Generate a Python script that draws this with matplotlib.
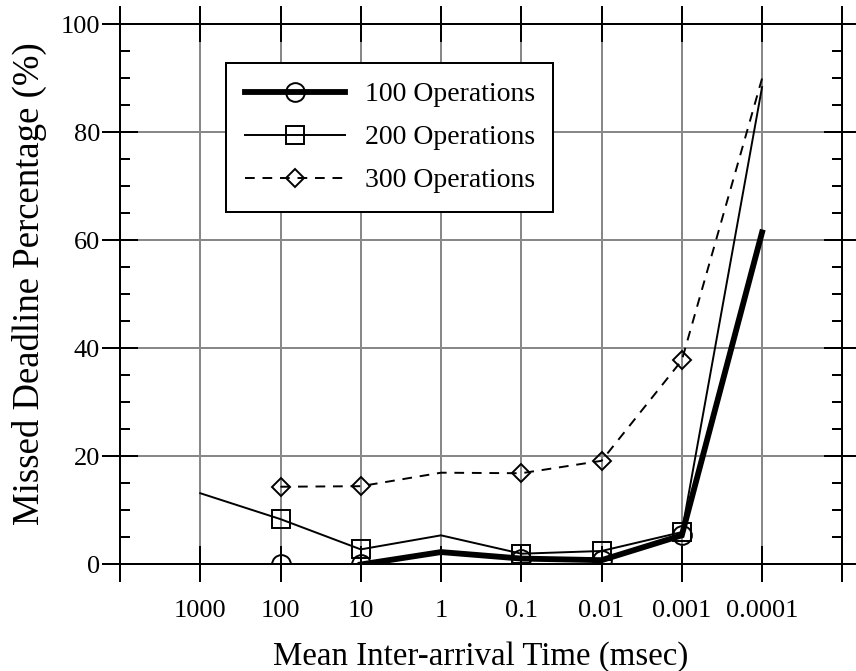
import numpy as np
import matplotlib
matplotlib.use("Agg")
import matplotlib.pyplot as plt
from matplotlib.ticker import FixedLocator, NullLocator, MultipleLocator

plt.rcParams['font.family'] = ['Liberation Serif', 'DejaVu Serif']

# valores (NaN = sem ponto)
x_vals = [1000, 100, 10, 1, 0.1, 0.01, 0.001, 0.0001]
x_labels = ['1000', '100', '10', '1', '0.1', '0.01', '0.001', '0.0001']
ops100 = [np.nan, 0.0, 0.0, 2.3, 1.1, 0.8, 5.4, 61.5]
ops200 = [13.2, 8.4, 2.8, 5.4, 2.0, 2.5, 6.0, 88.4]
ops300 = [np.nan, 14.4, 14.5, 17.0, 16.9, 19.2, 37.8, 90.0]
# onde a linha começa e onde há marcadores
line_start = [2, 0, 1]
mark_idx = [1, 2, 4, 5, 6]
labels = ['100 Operations', '200 Operations', '300 Operations']

styles = [
    dict(color='black', lw=4.2, ls='-', marker='o', ms=13.5),
    dict(color='black', lw=1.4, ls='-', marker='s', ms=13.5),
    dict(color='black', lw=1.4, ls=(0, (5, 4)), marker='D', ms=9.5),
]

fig = plt.figure(figsize=(8.56, 6.71), dpi=100)
ax = fig.add_axes([0.14019, 0.15872, 0.84381, 0.80477])

x = np.array(x_vals, dtype=float)
handles = []
for vals, start, st, lab in zip([ops100, ops200, ops300], line_start, styles, labels):
    v = np.array(vals, dtype=float)
    ax.plot(x[start:], v[start:], color=st['color'], lw=st['lw'], ls=st['ls'],
            solid_joinstyle='miter', zorder=3)
    ax.plot(x[mark_idx], v[mark_idx], ls='none', marker=st['marker'], ms=st['ms'],
            mfc='none', mec='black', mew=1.4, zorder=4)
    h, = ax.plot([], [], color=st['color'], lw=st['lw'], ls=st['ls'],
                 marker=st['marker'], ms=st['ms'], mfc='none', mec='black', mew=1.4)
    handles.append(h)

ax.set_xscale('log')
ax.set_xlim(1e4, 1e-5)
ax.set_ylim(0, 100)

ax.xaxis.set_major_locator(FixedLocator([1e4] + x_vals + [1e-5]))
ax.set_xticklabels([''] + x_labels + [''])
ax.xaxis.set_minor_locator(NullLocator())
ax.yaxis.set_major_locator(MultipleLocator(20))
ax.yaxis.set_minor_locator(MultipleLocator(5))

ax.tick_params(axis='both', which='major', direction='inout', length=25.9, width=1.44,
               labelsize=19, top=True, right=True)
ax.tick_params(axis='x', which='major', pad=12.5)
ax.tick_params(axis='y', which='major', pad=1.5)
ax.tick_params(axis='y', which='minor', direction='in', length=7.2, width=1.44,
               left=True, right=True)

ax.grid(True, which='major', color='#888888', lw=1.44)
ax.set_axisbelow(True)
for s in ax.spines.values():
    s.set_linewidth(1.44)

ax.set_xlabel('Mean Inter-arrival Time (msec)', fontsize=23.7, labelpad=14)
ax.set_ylabel('Missed Deadline Percentage (%)', fontsize=26.5)
ax.yaxis.set_label_coords(-0.101, 0.521)

leg = ax.legend(handles, labels, loc='upper left', bbox_to_anchor=(0.1468, 0.928),
                borderaxespad=0, fontsize=20, handlelength=3.6, handletextpad=0.72,
                labelspacing=0.63, borderpad=0.67, fancybox=False, framealpha=1,
                edgecolor='black', numpoints=1)
leg.get_frame().set_linewidth(1.44)
leg.set_zorder(5)

fig.savefig('out.png', dpi=100)
